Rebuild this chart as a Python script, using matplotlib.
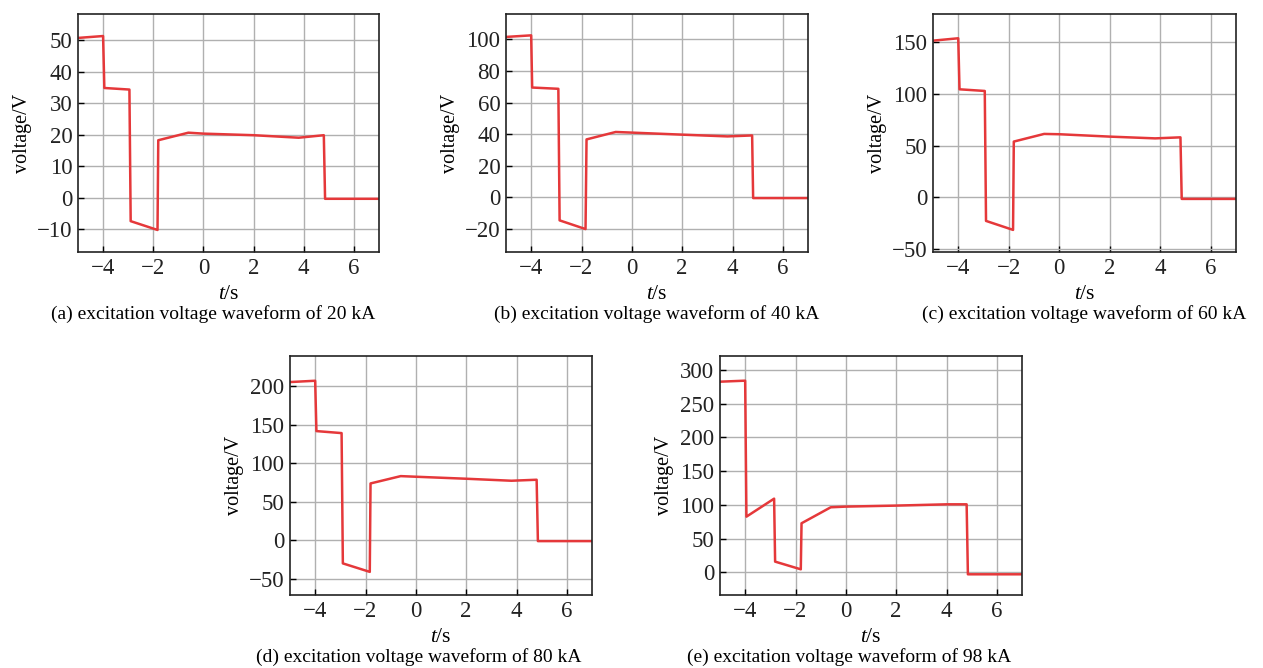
import matplotlib
matplotlib.use("Agg")
import matplotlib.pyplot as plt

plt.rcParams['font.family'] = ['Liberation Serif', 'DejaVu Serif']
plt.rcParams['mathtext.fontset'] = 'custom'
plt.rcParams['mathtext.rm'] = 'Liberation Serif'
plt.rcParams['mathtext.it'] = 'Liberation Serif:italic'

# 波形数据
t_a = [-5, -4.0, -3.95, -2.95, -2.9, -1.83, -1.8, -0.6, 0, 2, 3.8, 4.8, 4.85, 7]
v_a = [50.7, 51.3, 34.8, 34.3, -7.5, -10.3, 18.2, 20.6, 20.3, 19.8, 19.0, 19.8, -0.4, -0.4]

t_b = [-5, -4.0, -3.96, -2.92, -2.87, -1.84, -1.8, -0.64, 0, 2, 3.8, 4.78, 4.82, 7]
v_b = [101.5, 102.5, 69.5, 68.7, -14.5, -20.0, 36.7, 41.4, 41.0, 39.7, 38.6, 39.2, -0.4, -0.4]

t_c = [-5, -4.0, -3.95, -2.95, -2.9, -1.83, -1.8, -0.6, 0, 2, 3.8, 4.8, 4.85, 7]
v_c = [151.6, 153.9, 104.5, 102.9, -22.9, -31.6, 53.9, 61.3, 61.0, 58.7, 57.0, 58.0, -1.6, -1.6]

t_d = [-5, -4.0, -3.95, -2.95, -2.9, -1.83, -1.8, -0.6, 0, 2, 3.8, 4.8, 4.85, 7]
v_d = [205.2, 206.9, 141.6, 139.0, -30.0, -41.0, 73.7, 83.2, 82.4, 79.8, 77.2, 78.5, -1.1, -1.1]

t_e = [-5, -4.0, -3.95, -2.85, -2.81, -1.79, -1.76, -0.6, 0, 2, 4, 4.8, 4.85, 7]
v_e = [282.7, 284.2, 82.5, 109.2, 15.8, 4.4, 72.7, 96.4, 97.4, 98.9, 100.8, 100.8, -3.0, -3.0]

captions = ['(a) excitation voltage waveform of 20 kA',
            '(b) excitation voltage waveform of 40 kA',
            '(c) excitation voltage waveform of 60 kA',
            '(d) excitation voltage waveform of 80 kA',
            '(e) excitation voltage waveform of 98 kA']

xticks = [-4, -2, 0, 2, 4, 6]
yticks_list = [[-10, 0, 10, 20, 30, 40, 50],
               [-20, 0, 20, 40, 60, 80, 100],
               [-50, 0, 50, 100, 150],
               [-50, 0, 50, 100, 150, 200],
               [0, 50, 100, 150, 200, 250, 300]]
ylims = [(-17.3, 58.3), (-34.5, 116), (-53, 177.4), (-71, 239), (-33.7, 320.8)]

W, H = 1263, 668
# 像素位置: 左, 右, 上, 下
boxes = [(78, 379, 14, 252), (506, 808, 14, 252), (933, 1236, 14, 252),
         (290, 592, 356, 595), (720, 1022, 356, 595)]
cap_pos = [(213, 314), (657, 314), (1084, 314), (419, 657), (849, 657)]

fig = plt.figure(figsize=(W / 100, H / 100), dpi=100)

data = [(t_a, v_a), (t_b, v_b), (t_c, v_c), (t_d, v_d), (t_e, v_e)]
for i, (t, v) in enumerate(data):
    l, r, top, b = boxes[i]
    ax = fig.add_axes([l / W, 1 - b / H, (r - l) / W, (b - top) / H])
    ax.plot(t, v, color='#e5383a', lw=1.8)
    ax.set_xlim(-5, 7)
    ax.set_ylim(*ylims[i])
    ax.set_xticks(xticks)
    ax.set_yticks(yticks_list[i])
    ax.grid(True, color='#b0b0b0', lw=1.0)
    ax.set_axisbelow(True)
    ax.tick_params(direction='in', length=4, width=1, labelsize=16.5, pad=4,
                   top=False, right=False, labelcolor='#222222')
    for s in ax.spines.values():
        s.set_linewidth(1.2)
        s.set_color('#222222')
    ax.set_xlabel('$t$/s', fontsize=15.5)
    ax.set_ylabel('voltage/V', fontsize=14.5)
    ax.xaxis.set_label_coords(0.5, -0.14)
    ax.yaxis.set_label_coords(-0.153, 0.5)
    cx, cy = cap_pos[i]
    fig.text(cx / W, 1 - cy / H, captions[i], ha='center', va='center', fontsize=14)

fig.savefig('out.png', dpi=100)
